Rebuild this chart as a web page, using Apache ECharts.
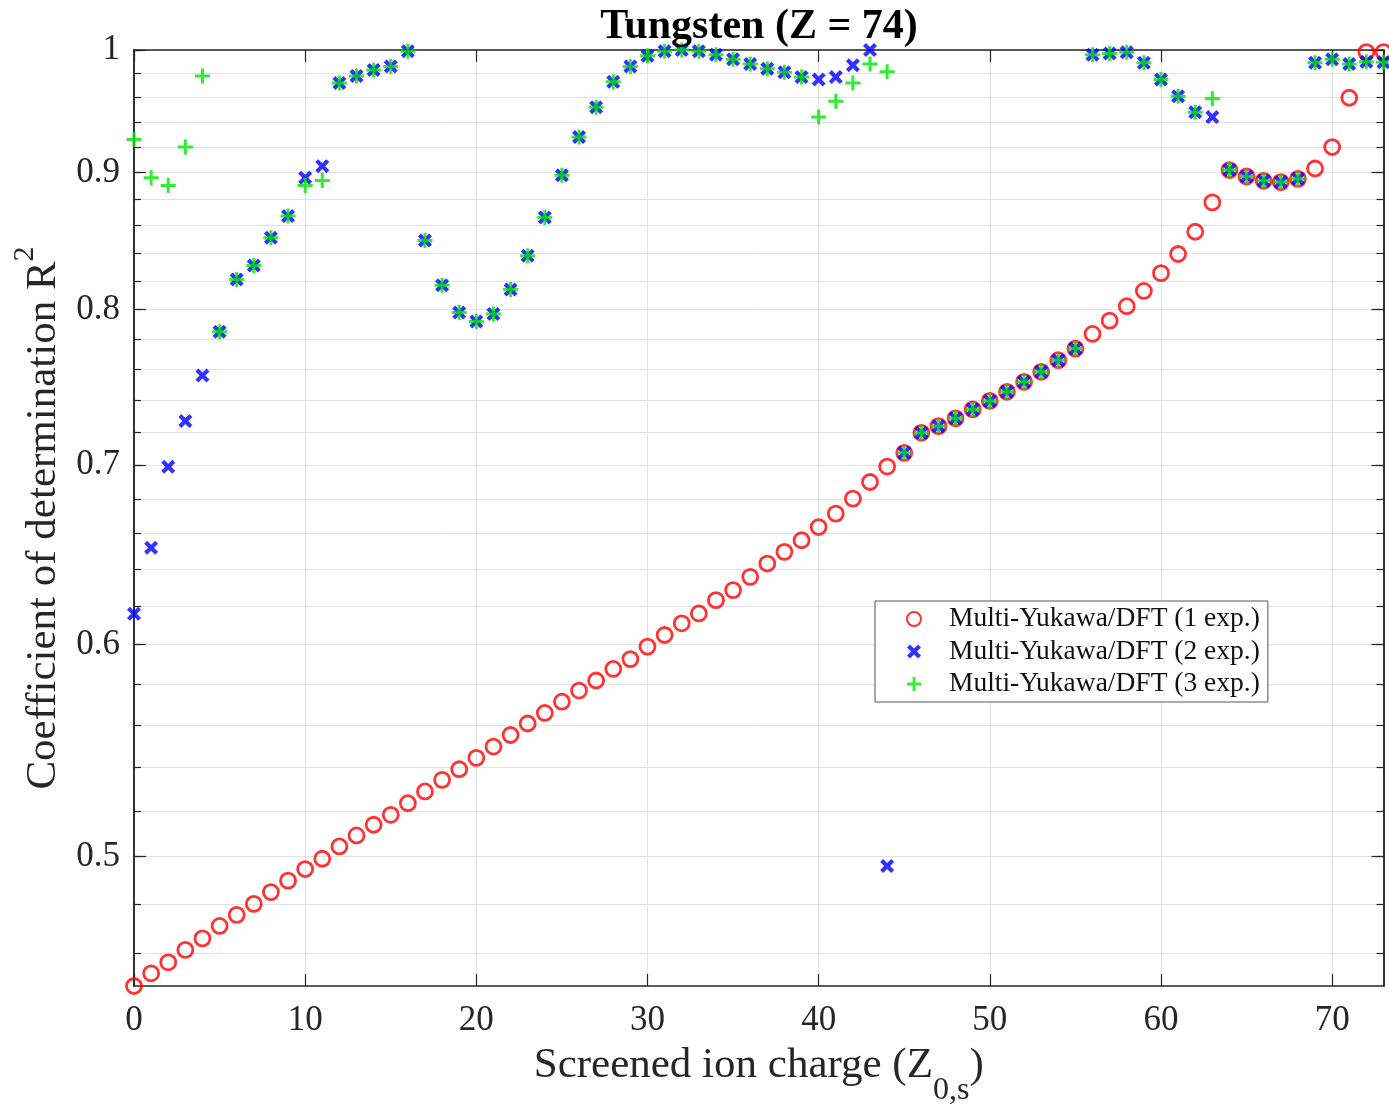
<!DOCTYPE html>
<html>
<head>
<meta charset="utf-8">
<script src="https://cdn.jsdelivr.net/npm/echarts@6/dist/echarts.min.js"></script>
<style>
html,body{margin:0;padding:0;background:#fff;overflow:hidden;}
#chart{width:1389px;height:1108px;}
</style>
</head>
<body>
<div id="chart"></div>
<script>
const charge = [0,1,2,3,4,5,6,7,8,9,10,11,12,13,14,15,16,17,18,19,20,21,22,23,24,25,26,27,28,29,30,31,32,33,34,35,36,37,38,39,40,41,42,43,44,45,46,47,48,49,50,51,52,53,54,55,56,57,58,59,60,61,62,63,64,65,66,67,68,69,70,71,72,73];

const r2OneExp = [0.4474,0.4523,0.4566,0.4615,0.4661,0.4711,0.4756,0.4801,0.4850,0.4898,
  0.4947,0.4991,0.5044,0.5092,0.5139,0.5183,0.5235,0.5288,0.5341,0.5390,
  0.5443,0.5496,0.5551,0.5606,0.5657,0.5712,0.5767,0.5817,0.5875,0.5925,
  0.5989,0.6049,0.6110,0.6162,0.6233,0.6287,0.6359,0.6432,0.6497,0.6562,
  0.6637,0.6714,0.6801,0.6899,0.6991,0.7074,0.7197,0.7238,0.7287,0.7343,
  0.7397,0.7455,0.7519,0.7584,0.7660,0.7737,0.7835,0.7925,0.8024,0.8130,
  0.8255,0.8392,0.8554,0.8773,0.9020,0.8970,0.8937,0.8927,0.8952,0.9032,
  0.9200,0.9598,0.9982,0.9982];

const r2TwoExp = [0.616,0.652,0.699,0.727,0.756,0.785,0.821,0.831,0.851,0.867,
  0.896,0.905,0.972,0.978,0.983,0.986,0.999,0.849,0.817,0.798,
  0.792,0.797,0.814,0.838,0.866,0.898,0.928,0.952,0.973,0.986,
  0.995,0.999,1.000,0.999,0.996,0.992,0.988,0.984,0.981,0.977,
  0.975,0.977,0.987,1.000,0.496,0.7074,0.7197,0.7238,0.7287,0.7343,
  0.7397,0.7455,0.7519,0.7584,0.7660,0.7737,0.996,0.997,0.998,0.989,
  0.975,0.961,0.948,0.944,0.9020,0.8970,0.8937,0.8927,0.8952,0.989,
  0.992,0.988,0.990,0.9895];

const r2ThreeExp = [0.926,0.896,0.890,0.920,0.978,0.785,0.821,0.831,0.851,0.867,
  0.890,0.894,0.972,0.978,0.983,0.986,0.999,0.849,0.817,0.798,
  0.792,0.797,0.814,0.838,0.866,0.898,0.928,0.952,0.973,0.986,
  0.995,0.999,1.000,0.999,0.996,0.992,0.988,0.984,0.981,0.977,
  0.944,0.957,0.972,0.988,0.9815,0.7074,0.7197,0.7238,0.7287,0.7343,
  0.7397,0.7455,0.7519,0.7584,0.7660,0.7737,0.996,0.997,0.998,0.989,
  0.975,0.961,0.948,0.959,0.9020,0.8970,0.8937,0.8927,0.8952,0.989,
  0.992,0.988,0.990,0.9895];

const yMajorTicks = [0.5,0.6,0.7,0.8,0.9,1];
const yMinorTicks = [0.46,0.48,0.5,0.52,0.54,0.56,0.58,0.6,0.62,0.64,0.66,0.68,0.7,0.72,0.74,0.76,0.78,0.8,0.82,0.84,0.86,0.88,0.9,0.92,0.94,0.96,0.98,1];
const xTicks = [0,10,20,30,40,50,60,70];
const seriesNames = ['Multi-Yukawa/DFT (1 exp.)','Multi-Yukawa/DFT (2 exp.)','Multi-Yukawa/DFT (3 exp.)'];

const FONT = 'Liberation Serif';
const AX = '#262626';
const GRIDC = '#e2e2e2';
const Y_MIN = 0.4474, Y_MAX = 1;

const pts = arr => charge.map((c, i) => [c, arr[i]]);

const xMark = 'path://M-1,-0.58L-0.58,-1L0,-0.42L0.58,-1L1,-0.58L0.42,0L1,0.58L0.58,1L0,0.42L-0.58,1L-1,0.58L-0.42,0Z';
const plusMark = 'path://M-0.2,-1H0.2V-0.2H1V0.2H0.2V1H-0.2V0.2H-1V-0.2H-0.2Z';

function yAxisDef(pos, ticks, len, withLabels, withSplit) {
  return {
    type: 'log', logBase: 10, min: Y_MIN, max: Y_MAX, position: pos,
    axisLine: { show: true, lineStyle: { color: AX, width: 1.5 } },
    axisTick: { show: true, inside: true, length: len, customValues: ticks, lineStyle: { color: AX, width: 1.2 } },
    axisLabel: withLabels ? {
      show: true, customValues: yMajorTicks, margin: 14,
      fontFamily: FONT, fontSize: 35, color: AX,
      formatter: v => (Math.abs(v - 1) < 1e-9 ? '1' : Number(v).toFixed(1))
    } : { show: false },
    splitLine: withSplit ? { show: true, lineStyle: { color: GRIDC, width: 1 } } : { show: false },
    minorTick: { show: false }, minorSplitLine: { show: false }
  };
}

function xAxisDef(pos, withLabels, withSplit) {
  return {
    type: 'value', min: 0, max: 73, position: pos,
    axisLine: { show: true, onZero: false, lineStyle: { color: AX, width: 1.5 } },
    axisTick: { show: true, inside: true, length: 12, customValues: xTicks, lineStyle: { color: AX, width: 1.2 } },
    axisLabel: withLabels ? {
      show: true, customValues: xTicks, margin: 17,
      fontFamily: FONT, fontSize: 35, color: AX
    } : { show: false },
    splitLine: withSplit ? { show: true, lineStyle: { color: GRIDC, width: 1 } } : { show: false }
  };
}

const xMain = xAxisDef('bottom', true, true);
xMain.name = '{a|Screened ion charge (Z}{s|0,s}{a|)}';
xMain.nameLocation = 'middle';
xMain.nameGap = 58;
xMain.nameTextStyle = {
  rich: {
    a: { fontFamily: FONT, fontSize: 43, lineHeight: 43, color: AX, verticalAlign: 'top' },
    s: { fontFamily: FONT, fontSize: 32, lineHeight: 32, color: AX, verticalAlign: 'top', padding: [31, 0, 0, 0] }
  }
};

const yMain = yAxisDef('left', yMinorTicks, 7, true, true);
yMain.name = '{a|Coefficient of determination R}{p|2}';
yMain.nameLocation = 'middle';
yMain.nameGap = 67;
yMain.nameTextStyle = {
  rich: {
    a: { fontFamily: FONT, fontSize: 43, lineHeight: 43, color: AX, verticalAlign: 'top', padding: [12, 0, 0, 0] },
    p: { fontFamily: FONT, fontSize: 30, lineHeight: 30, color: AX, verticalAlign: 'top' }
  }
};

const chart = echarts.init(document.getElementById('chart'), null, { renderer: 'canvas', width: 1389, height: 1108 });
chart.setOption({
  animation: false,
  backgroundColor: '#fff',
  grid: { left: 134, top: 50, right: 5.5, bottom: 122, containLabel: false, outerBoundsMode: 'none' },
  graphic: [{
    type: 'text', x: 759, y: 27, z: 100,
    style: { text: 'Tungsten (Z = 74)', font: 'bold 42px "Liberation Serif"', fill: '#000', align: 'center', verticalAlign: 'middle' }
  }],
  xAxis: [xMain, xAxisDef('top', false, false)],
  yAxis: [
    yMain,
    yAxisDef('left', yMajorTicks, 12, false, false),
    yAxisDef('right', yMinorTicks, 7, false, false),
    yAxisDef('right', yMajorTicks, 12, false, false)
  ],
  legend: {
    orient: 'vertical', left: 875, top: 601,
    padding: [4, 8, 4, 31],
    itemWidth: 14, itemHeight: 14, itemGap: 4.5,
    backgroundColor: '#fff', borderColor: '#555', borderWidth: 1,
    textStyle: { fontFamily: FONT, fontSize: 27.5, lineHeight: 26, color: '#111', padding: [0, 0, 0, 23] },
    data: seriesNames
  },
  series: [
    {
      name: seriesNames[0], type: 'scatter', xAxisIndex: 0, yAxisIndex: 0, clip: false,
      symbol: 'circle', symbolSize: 15,
      itemStyle: { color: 'rgba(255,255,255,0)', borderColor: '#ff0000', borderWidth: 2.8 },
      data: pts(r2OneExp), z: 2
    },
    {
      name: seriesNames[1], type: 'scatter', xAxisIndex: 0, yAxisIndex: 0, clip: false,
      symbol: xMark, symbolSize: 14,
      itemStyle: { color: '#0000ff' },
      data: pts(r2TwoExp), z: 3
    },
    {
      name: seriesNames[2], type: 'scatter', xAxisIndex: 0, yAxisIndex: 0, clip: false,
      symbol: plusMark, symbolSize: 15,
      itemStyle: { color: '#00e600' },
      data: pts(r2ThreeExp), z: 4
    }
  ]
});
</script>
</body>
</html>
